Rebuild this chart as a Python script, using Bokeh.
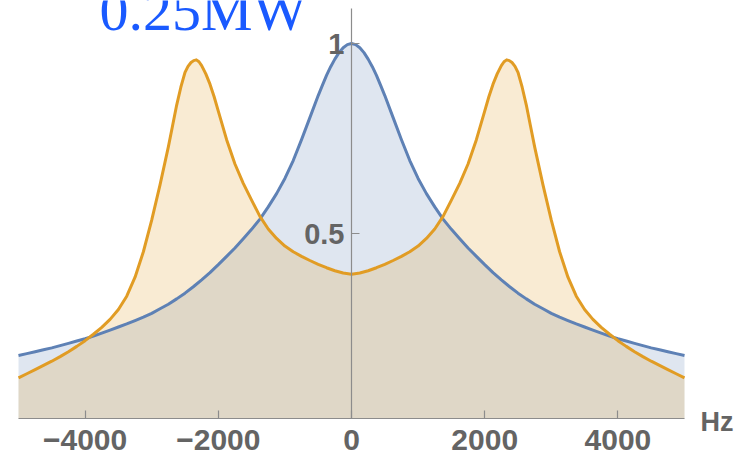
from bokeh.plotting import figure
from bokeh.models import Range1d, FixedTicker, Label
from bokeh.embed import file_html
from bokeh.resources import INLINE

# Single resonance profile (normalised), sampled in detuning (Hz)
blue_hz = [-5000, -4875, -4750, -4625, -4500, -4375, -4250, -4125, -4000, -3875,
           -3750, -3625, -3500, -3375, -3250, -3125, -3000, -2875, -2750, -2625,
           -2500, -2375, -2250, -2125, -2000, -1875, -1750, -1625, -1500, -1375,
           -1250, -1125, -1000, -875, -750, -625, -500, -437.5, -375, -312.5,
           -250, -187.5, -125, -62.5, 0, 62.5, 125, 187.5, 250, 312.5, 375, 437.5,
           500, 625, 750, 875, 1000, 1125, 1250, 1375, 1500, 1625, 1750, 1875,
           2000, 2125, 2250, 2375, 2500, 2625, 2750, 2875, 3000, 3125, 3250, 3375,
           3500, 3625, 3750, 3875, 4000, 4125, 4250, 4375, 4500, 4625, 4750, 4875,
           5000]
blue_val = [0.179, 0.184, 0.189, 0.194, 0.199, 0.205, 0.211, 0.217, 0.223, 0.230,
            0.238, 0.246, 0.254, 0.262, 0.271, 0.280, 0.290, 0.302, 0.314, 0.328,
            0.343, 0.360, 0.378, 0.397, 0.418, 0.440, 0.462, 0.486, 0.511, 0.538,
            0.570, 0.605, 0.645, 0.692, 0.747, 0.805, 0.863, 0.890, 0.916, 0.939,
            0.959, 0.976, 0.989, 0.997, 1.000, 0.997, 0.989, 0.976, 0.959, 0.939,
            0.916, 0.890,
            0.863, 0.805, 0.747, 0.692, 0.645, 0.605, 0.570, 0.538, 0.511, 0.486,
            0.462, 0.440,
            0.418, 0.397, 0.378, 0.360, 0.343, 0.328, 0.314, 0.302, 0.290, 0.280,
            0.271, 0.262,
            0.254, 0.246, 0.238, 0.230, 0.223, 0.217, 0.211, 0.205, 0.199, 0.194,
            0.189, 0.184,
            0.179]

# Split (doublet) profile, sampled more finely around its two maxima
orange_hz = [-5000, -4875, -4750, -4625, -4500, -4375, -4250, -4125, -4000, -3875,
             -3750, -3625, -3500, -3375, -3250, -3125, -3000, -2875, -2750,
             -2687.5, -2625, -2562.5, -2500, -2455, -2410, -2370, -2330, -2290,
             -2250, -2187.5, -2125, -2062.5, -2000, -1875, -1750, -1625, -1500,
             -1375, -1250, -1125, -1000, -875, -750, -625, -500, -375, -250, -125,
             0,
             125, 250, 375, 500, 625, 750, 875, 1000, 1125, 1250, 1375, 1500, 1625,
             1750, 1875, 2000, 2062.5, 2125, 2187.5, 2250, 2290, 2330, 2370, 2410,
             2455, 2500, 2562.5, 2625, 2687.5, 2750, 2875, 3000, 3125, 3250, 3375,
             3500, 3625, 3750, 3875, 4000, 4125, 4250, 4375, 4500, 4625, 4750, 4875,
             5000]
orange_val = [0.120, 0.131, 0.142, 0.153, 0.164, 0.176, 0.189, 0.203, 0.218, 0.235,
              0.253, 0.274, 0.300, 0.335, 0.385, 0.452, 0.535, 0.628, 0.728,
              0.783, 0.838, 0.885, 0.924, 0.940, 0.950, 0.955, 0.957, 0.952,
              0.942, 0.920, 0.893, 0.860, 0.822, 0.747, 0.683, 0.632, 0.588,
              0.545, 0.512, 0.487, 0.467, 0.452, 0.440, 0.429, 0.419, 0.410, 0.402,
              0.396,
              0.393,
              0.396, 0.402, 0.410, 0.419, 0.429, 0.440, 0.452, 0.467, 0.487, 0.512,
              0.545, 0.588, 0.632,
              0.683, 0.747, 0.822, 0.860, 0.893, 0.920, 0.942, 0.952, 0.957, 0.955,
              0.950,
              0.940, 0.924, 0.885, 0.838, 0.783, 0.728, 0.628, 0.535, 0.452, 0.385,
              0.335,
              0.300, 0.274, 0.253, 0.235, 0.218, 0.203, 0.189, 0.176, 0.164, 0.153,
              0.142, 0.131,
              0.120]

x_ticks = [-4000, -2000, 0, 2000, 4000]
x_tick_labels = ["\u22124000", "\u22122000", "0", "2000", "4000"]
y_ticks = [0.5, 1]
y_tick_labels = ["0.5", "1"]

title_text = "0.25MW"
x_unit = "Hz"

BLUE = "#5e81b5"
ORANGE = "#e19c24"
AXIS_GRAY = "#8c8c8c"
LABEL_GRAY = "#646464"

# data extent shown by the axes
X_MIN, X_MAX = -5000, 5000
Y_AXIS, Y_TOP = 0.01316, 1.0921

# the frame spans the whole canvas so labels around the axes stay visible
p = figure(width=743, height=453, output_backend="svg", toolbar_location=None,
           x_range=Range1d(-5270.3, 5885.9), y_range=Range1d(-0.0789, 1.1132),
           min_border=0, min_border_left=0, min_border_right=0,
           min_border_top=0, min_border_bottom=0)
p.outline_line_color = None
p.grid.visible = False
p.background_fill_color = "white"
p.border_fill_color = "white"

# filled areas down to the axis, then the curves on top
p.varea(x=blue_hz, y1=Y_AXIS, y2=blue_val, fill_color=BLUE, fill_alpha=0.2)
p.varea(x=orange_hz, y1=Y_AXIS, y2=orange_val, fill_color=ORANGE, fill_alpha=0.2)
p.line(blue_hz, blue_val, line_color=BLUE, line_width=3, line_join="round")
p.line(orange_hz, orange_val, line_color=ORANGE, line_width=3, line_join="round")

# horizontal axis along the bottom of the data region
xa = p.xaxis[0]
xa.fixed_location = Y_AXIS
xa.bounds = (X_MIN, X_MAX)
xa.ticker = FixedTicker(ticks=x_ticks, minor_ticks=[])
xa.major_label_overrides = dict(zip(x_ticks, x_tick_labels))

# vertical axis through zero detuning
ya = p.yaxis[0]
ya.fixed_location = 0
ya.bounds = (Y_AXIS, Y_TOP)
ya.ticker = FixedTicker(ticks=y_ticks, minor_ticks=[])
ya.major_label_overrides = dict(zip(y_ticks, y_tick_labels))

for ax in (xa, ya):
    ax.axis_line_color = AXIS_GRAY
    ax.axis_line_width = 1.2
    ax.major_tick_line_color = AXIS_GRAY
    ax.major_tick_line_width = 1.2
    ax.major_tick_in = 8
    ax.major_tick_out = 0
    ax.minor_tick_line_color = None
    ax.major_label_text_font = "Liberation Sans"
    ax.major_label_text_font_style = "bold"
    ax.major_label_text_color = LABEL_GRAY
xa.major_label_text_font_size = "30px"
ya.major_label_text_font_size = "29px"
xa.major_label_standoff = 11
ya.major_label_standoff = 7

p.add_layout(Label(x=X_MAX, y=Y_AXIS, x_offset=16, y_offset=-3, text=x_unit,
                   text_font="Liberation Sans", text_font_style="bold",
                   text_font_size="27px", text_color=LABEL_GRAY,
                   text_baseline="middle"))

p.add_layout(Label(x=X_MIN, y=1.1132, x_offset=81, y_offset=-10, text=title_text,
                   text_font="Liberation Serif", text_font_size="58px",
                   text_color="#1a5aff", text_baseline="middle"))

open("out.html", "w").write(file_html(p, INLINE))
